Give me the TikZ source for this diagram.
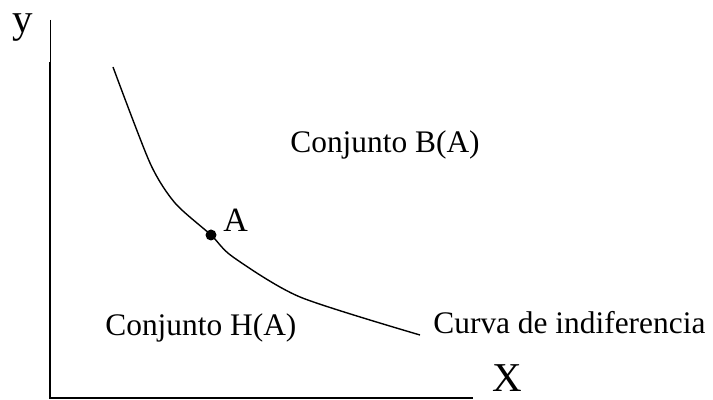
\documentclass[tikz,border=0pt]{standalone}
\usepackage{fontspec}
\setmainfont{Liberation Serif}
\begin{document}
\begin{tikzpicture}[x=0.5pt,y=-0.5pt,
  lbl/.style={inner sep=0pt,font=\fontsize{15.7pt}{18pt}\selectfont},
  axlbl/.style={inner sep=0pt,font=\fontsize{20.5pt}{24pt}\selectfont},
  axisline/.style={line width=1pt},
  curveline/.style={line width=0.7pt}]
\useasboundingbox (0,0) rectangle (713,400);
% axes
\coordinate (ytop) at (50,20);
\coordinate (ymid) at (50,62);
\coordinate (orig) at (50,398);
\coordinate (xend) at (473,398);
\draw[line width=0.5pt] (ytop) -- (ymid);
\draw[axisline] (ymid) -- (orig) -- (xend);
\node[axlbl] (ylab) at (22.5,28) {y};
\node[axlbl] (xlab) at (507,378) {X};
% indifference curve
\draw[curveline] plot[smooth,tension=0.45] coordinates {(113,67) (150,163) (175,203) (211,235) (233,257) (300,297) (420,335)};
\node[circle,fill,inner sep=0pt,minimum size=5.5pt] (A) at (211,235) {};
\node[inner sep=0pt,font=\fontsize{17pt}{20pt}\selectfont,anchor=west] (Alab) at (223,220) {A};
\node[lbl,anchor=west] (B) at (290,145) {Conjunto B(A)};
\node[lbl,anchor=west] (H) at (105,328) {Conjunto H(A)};
\node[lbl,anchor=west] (C) at (433,323) {Curva de indiferencia};
\end{tikzpicture}
\end{document}
